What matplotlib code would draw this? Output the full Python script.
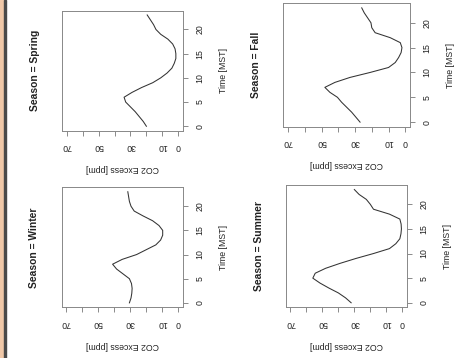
import matplotlib
matplotlib.use("Agg")
import matplotlib.pyplot as plt
from matplotlib.patches import Rectangle

plt.rcParams['font.family'] = ['Liberation Sans', 'DejaVu Sans']

hours = list(range(24))

winter = [30.5, 29.5, 29, 28.8, 29.2, 30.5, 34.5, 38.5, 41, 35, 26, 20,
          14, 11, 9.7, 9.7, 12, 16, 22, 27.5, 29.5, 30.5, 31, 31.5]
spring = [20, 22, 24.5, 27, 30, 33, 34, 29, 23, 16, 11, 7,
          4, 2.5, 1.5, 1.5, 2, 3.5, 6.5, 11, 14, 15.5, 17.5, 19.5]
summer = [32, 35.5, 40, 46, 51.5, 56, 54.5, 48, 39, 29, 18, 8,
          4, 1.5, 0.8, 0.5, 0.7, 1.5, 8, 18, 20, 22.5, 27, 30]
fall = [27, 29.5, 32, 35, 38, 40.5, 45, 48, 42, 33, 21, 10,
        6, 4, 2.5, 2, 3, 9, 18, 20, 20.5, 22.5, 24.5, 26]

co2_ticks = [0, 10, 20, 30, 40, 50, 60, 70]
co2_labels = ['0', '10', '', '30', '', '50', '', '70']
time_ticks = [0, 5, 10, 15, 20]

W, H = 459, 358
fig = plt.figure(figsize=(W / 100, H / 100), dpi=100)

# strip along the left edge
fig.patches.append(Rectangle((0, 0), 3.5 / W, 1, transform=fig.transFigure,
                             color='#f0c8a8', zorder=0))
fig.patches.append(Rectangle((3.5 / W, 0), 2 / W, 1, transform=fig.transFigure,
                             color='#4a4a4a', zorder=0))

# (title, values, box in pixels x0, x1, y0, y1)
panels = [
    ('Season = Spring', spring, (62.3, 182.7, 10.5, 130.7)),
    ('Season = Fall', fall, (283.3, 410, 3.3, 126.7)),
    ('Season = Winter', winter, (61.7, 182.7, 187.3, 307.3)),
    ('Season = Summer', summer, (286, 406.7, 185, 307.3)),
]

txt = '#222222'
fs = 6.3
for title, vals, (x0, x1, y0, y1) in panels:
    ax = fig.add_axes([x0 / W, 1 - y1 / H, (x1 - x0) / W, (y1 - y0) / H])
    ax.plot(vals, hours, color='#333333', lw=0.75)
    ax.set_xlim(72.8, -2.8)
    ax.set_ylim(-0.92, 23.92)

    ax.set_xticks(co2_ticks)
    ax.set_xticklabels(co2_labels, rotation=180, fontsize=fs, color=txt)
    ax.yaxis.tick_right()
    ax.yaxis.set_label_position('right')
    ax.set_yticks(time_ticks)
    ax.set_yticklabels([str(t) for t in time_ticks], rotation=90,
                       fontsize=fs, color=txt, va='center')
    ax.tick_params(length=3.6, width=0.6, color='#777777')
    ax.tick_params(axis='x', pad=4.5)
    ax.tick_params(axis='y', pad=5.5)

    for s in ax.spines.values():
        s.set_color('#888888')
        s.set_linewidth(0.7)

    ax.set_xlabel('CO2 Excess [ppm]', rotation=180, fontsize=fs, color=txt,
                  labelpad=9.5)
    ax.set_ylabel('Time [MST]', rotation=90, fontsize=fs, color=txt,
                  labelpad=10.5)
    ax.annotate(title, xy=(0, 0.5), xycoords='axes fraction',
                xytext=(-27.5 * 0.72, 0), textcoords='offset points',
                rotation=90, ha='center', va='center', fontsize=7.4,
                fontweight='bold', color=txt)

fig.savefig('out.png', dpi=100)
